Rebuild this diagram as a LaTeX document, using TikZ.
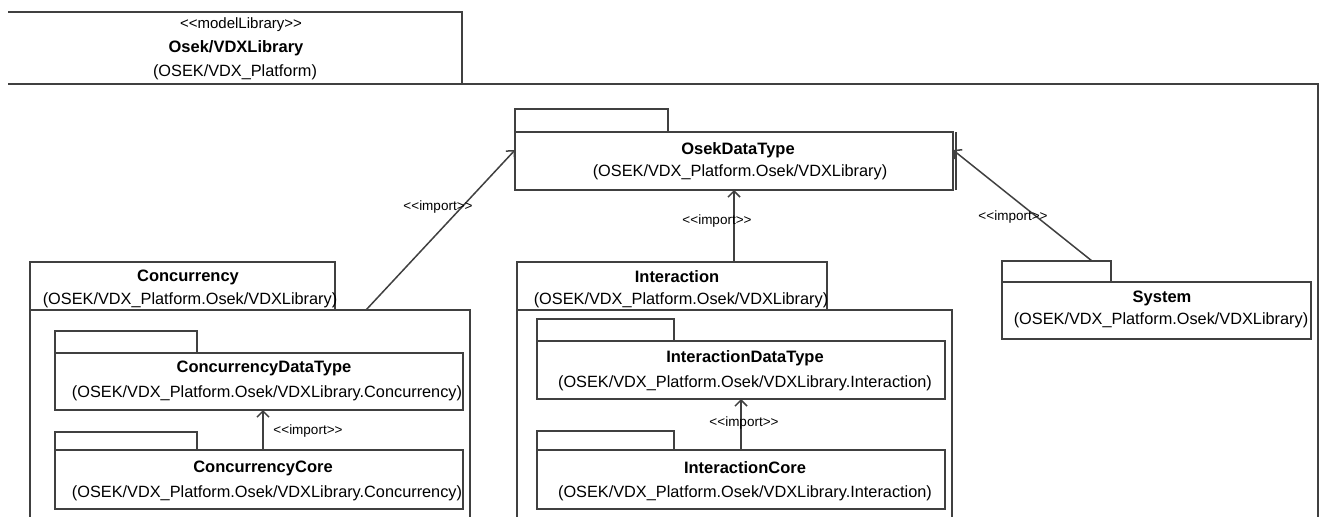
\documentclass[tikz,border=0pt]{standalone}
\usepackage{fontspec}
\setmainfont{Liberation Sans}
\usetikzlibrary{arrows.meta}
\definecolor{ln}{HTML}{404040}
\newcommand\dlt{<\kern0pt<}
\newcommand\dgt{>\kern0pt>}
\begin{document}
\begin{tikzpicture}[x=1pt,y=-1pt,
  box/.style={draw=ln, line width=1.8pt, anchor=north west, inner sep=0pt, outer sep=0pt},
  edge/.style={draw=ln, line width=1.8pt},
  txt/.style={inner sep=0pt, font=\fontsize{16.3}{19}\selectfont},
  btxt/.style={inner sep=0pt, font=\fontsize{16.5}{19}\selectfont\bfseries},
  stxt/.style={inner sep=0pt, font=\fontsize{15}{18}\selectfont},
  lbl/.style={inner sep=0pt, font=\fontsize{13.5}{16}\selectfont},
  imp/.style={draw=ln, line width=1.5pt, -{Straight Barb[length=6pt,width=12pt,line width=1.5pt]}}]
\useasboundingbox (0,0) rectangle (1320,517);
% outer package
\draw[edge] (8,12) -- (462,12) -- (462,84);
\draw[edge] (8,84) -- (1318,84) -- (1318,517);
\node[stxt] (libS) at (241,25) {\dlt modelLibrary\dgt};
\node[btxt] (libN) at (236,48) {Osek/VDXLibrary};
\node[txt] (libP) at (235,72) {(OSEK/VDX\_Platform)};
% OsekDataType
\node[box, minimum width=153, minimum height=23] (osekTab) at (515,109) {};
\node[box, minimum width=438, minimum height=58] (osekB) at (515,132) {};
\draw[edge] ([xshift=3]osekB.north east) -- ([xshift=3]osekB.south east);
\node[btxt] (osekN) at (738,150) {OsekDataType};
\node[txt] (osekP) at (740,172) {(OSEK/VDX\_Platform.Osek/VDXLibrary)};
% Concurrency
\node[box, minimum width=305, minimum height=48] (conT) at (30,262) {};
\draw[edge] (conT.south west) -- (30,517);
\draw[edge] (conT.south east) -- (470,310) -- (470,517);
\node[btxt] (conN) at (188,277) {Concurrency};
\node[txt] (conP) at (190,300) {(OSEK/VDX\_Platform.Osek/VDXLibrary)};
% ConcurrencyDataType
\node[box, minimum width=142, minimum height=22] (cdtTab) at (55,331) {};
\node[box, minimum width=408, minimum height=57] (cdtB) at (55,353) {};
\node[btxt] (cdtN) at (264,368) {ConcurrencyDataType};
\node[txt] (cdtP) at (267,393) {(OSEK/VDX\_Platform.Osek/VDXLibrary.Concurrency)};
% ConcurrencyCore
\node[box, minimum width=142, minimum height=18] (ccTab) at (55,432) {};
\node[box, minimum width=408, minimum height=59] (ccB) at (55,450) {};
\node[btxt] (ccN) at (263,468) {ConcurrencyCore};
\node[txt] (ccP) at (267,493) {(OSEK/VDX\_Platform.Osek/VDXLibrary.Concurrency)};
% Interaction
\node[box, minimum width=310, minimum height=48] (intT) at (517,262) {};
\draw[edge] (intT.south west) -- (517,517);
\draw[edge] (intT.south east) -- (952,310) -- (952,517);
\node[btxt] (intN) at (677,277) {Interaction};
\node[txt] (intP) at (681,300) {(OSEK/VDX\_Platform.Osek/VDXLibrary)};
% InteractionDataType
\node[box, minimum width=137, minimum height=22] (idtTab) at (537,319) {};
\node[box, minimum width=408, minimum height=58] (idtB) at (537,341) {};
\node[btxt] (idtN) at (745,358) {InteractionDataType};
\node[txt] (idtP) at (745,383) {(OSEK/VDX\_Platform.Osek/VDXLibrary.Interaction)};
% InteractionCore
\node[box, minimum width=137, minimum height=19] (icTab) at (537,431) {};
\node[box, minimum width=408, minimum height=59] (icB) at (537,450) {};
\node[btxt] (icN) at (745,468) {InteractionCore};
\node[txt] (icP) at (745,493) {(OSEK/VDX\_Platform.Osek/VDXLibrary.Interaction)};
% System
\node[box, minimum width=109, minimum height=21] (sysTab) at (1002,261) {};
\node[box, minimum width=309, minimum height=57] (sysB) at (1002,282) {};
\node[btxt] (sysN) at (1162,298) {System};
\node[txt] (sysP) at (1161,320) {(OSEK/VDX\_Platform.Osek/VDXLibrary)};
% imports
\draw[imp] ([xshift=31]conT.south east) -- ([yshift=11]osekB.west);
\node[lbl] (l1) at (438,207) {\dlt import\dgt};
\draw[imp] (intT.north -| osekB.south) -- (osekB.south);
\node[lbl] (l2) at (717,221) {\dlt import\dgt};
\draw[imp] ([xshift=-19]sysTab.north east) -- ([yshift=11]osekB.east);
\node[lbl] (l3) at (1013,217) {\dlt import\dgt};
\draw[imp] ([xshift=4]ccB.north) -- ([xshift=4]cdtB.south);
\node[lbl] (l4) at (308,431) {\dlt import\dgt};
\draw[imp] (icB.north) -- (idtB.south);
\node[lbl] (l5) at (744,423) {\dlt import\dgt};
\end{tikzpicture}
\end{document}
